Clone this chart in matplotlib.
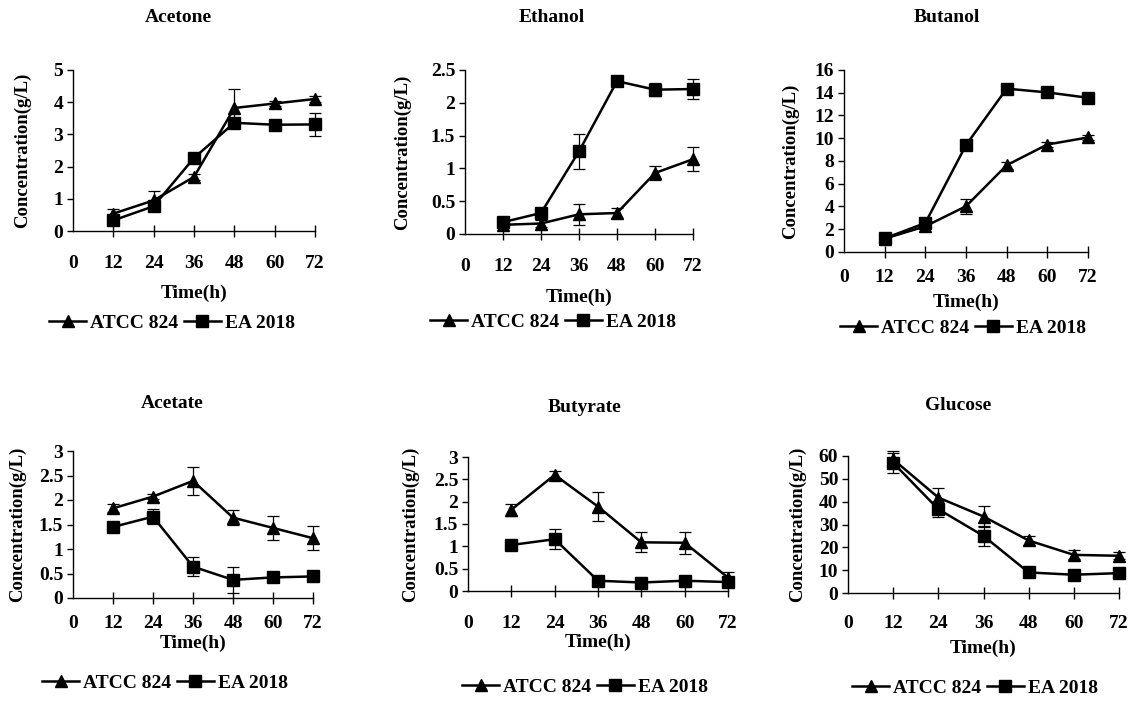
"""Fermentation time courses: ATCC 824 vs EA 2018, six metabolites."""
import matplotlib
matplotlib.use("Agg")
import matplotlib.pyplot as plt
from matplotlib.lines import Line2D

plt.rcParams["font.family"] = ["Liberation Serif", "DejaVu Serif"]
plt.rcParams["font.weight"] = "bold"

W, H = 1132, 703

time_h = [12, 24, 36, 48, 60, 72]
xticks = [0, 12, 24, 36, 48, 60, 72]

acetone_atcc = [0.54, 0.95, 1.68, 3.82, 3.96, 4.10]
acetone_atcc_err = [0.15, 0.30, 0.10, 0.60, 0.08, 0.10]
acetone_ea = [0.33, 0.77, 2.27, 3.36, 3.30, 3.31]
acetone_ea_err = [0.10, 0.10, 0.08, 0.10, 0.15, 0.37]

ethanol_atcc = [0.14, 0.16, 0.30, 0.32, 0.93, 1.14]
ethanol_atcc_err = [0.05, 0.06, 0.16, 0.07, 0.10, 0.18]
ethanol_ea = [0.18, 0.32, 1.26, 2.33, 2.20, 2.21]
ethanol_ea_err = [0.05, 0.05, 0.27, 0.04, 0.10, 0.15]

butanol_atcc = [1.17, 2.26, 4.02, 7.63, 9.45, 10.07]
butanol_atcc_err = [0.2, 0.2, 0.65, 0.3, 0.2, 0.2]
butanol_ea = [1.20, 2.55, 9.40, 14.36, 14.03, 13.56]
butanol_ea_err = [0.2, 0.2, 0.2, 0.4, 0.2, 0.2]

acetate_atcc = [1.83, 2.07, 2.39, 1.64, 1.43, 1.22]
acetate_atcc_err = [0.08, 0.05, 0.29, 0.16, 0.25, 0.24]
acetate_ea = [1.45, 1.66, 0.64, 0.37, 0.42, 0.44]
acetate_ea_err = [0.05, 0.15, 0.19, 0.26, 0.10, 0.08]

butyrate_atcc = [1.82, 2.60, 1.89, 1.09, 1.08, 0.30]
butyrate_atcc_err = [0.13, 0.08, 0.33, 0.22, 0.25, 0.13]
butyrate_ea = [1.03, 1.16, 0.23, 0.19, 0.23, 0.20]
butyrate_ea_err = [0.03, 0.23, 0.03, 0.03, 0.03, 0.03]

glucose_atcc = [58.5, 41.8, 33.5, 23.0, 16.7, 16.3]
glucose_atcc_err = [3.8, 4.0, 4.4, 2.0, 2.0, 1.5]
glucose_ea = [57.0, 36.7, 25.0, 9.0, 8.0, 8.7]
glucose_ea_err = [4.3, 3.6, 4.3, 1.0, 1.0, 1.0]

panels = [
    # name, atcc, atcc_err, ea, ea_err, yticks, ytick labels
    ("Acetone", acetone_atcc, acetone_atcc_err, acetone_ea, acetone_ea_err,
     [0, 1, 2, 3, 4, 5], ["0", "1", "2", "3", "4", "5"]),
    ("Ethanol", ethanol_atcc, ethanol_atcc_err, ethanol_ea, ethanol_ea_err,
     [0, 0.5, 1, 1.5, 2, 2.5], ["0", "0.5", "1", "1.5", "2", "2.5"]),
    ("Butanol", butanol_atcc, butanol_atcc_err, butanol_ea, butanol_ea_err,
     [0, 2, 4, 6, 8, 10, 12, 14, 16], ["0", "2", "4", "6", "8", "10", "12", "14", "16"]),
    ("Acetate", acetate_atcc, acetate_atcc_err, acetate_ea, acetate_ea_err,
     [0, 0.5, 1, 1.5, 2, 2.5, 3], ["0", "0.5", "1", "1.5", "2", "2.5", "3"]),
    ("Butyrate", butyrate_atcc, butyrate_atcc_err, butyrate_ea, butyrate_ea_err,
     [0, 0.5, 1, 1.5, 2, 2.5, 3], ["0", "0.5", "1", "1.5", "2", "2.5", "3"]),
    ("Glucose", glucose_atcc, glucose_atcc_err, glucose_ea, glucose_ea_err,
     [0, 10, 20, 30, 40, 50, 60], ["0", "10", "20", "30", "40", "50", "60"]),
]

# pixel layout: axes box (left, right, bottom, top), x tick pad (pt), title xy,
# ylabel x, xlabel y, legend xy
layout = [
    ((73, 315, 231, 70), 13, (178, 18), 22, 293, (172, 323)),
    ((465, 693, 234, 70), 13, (552, 18), 402, 297, (553, 322)),
    ((844, 1088, 252, 70), 8.5, (947, 18), 790, 302, (963, 328)),
    ((73, 313, 598, 451), 8.5, (172, 403), 17, 643, (165, 683)),
    ((468, 728, 591, 457), 13, (585, 408), 410, 642, (585, 687)),
    ((848, 1119, 593, 456), 12, (958, 405), 797, 648, (975, 688)),
]


def fx(x):
    return x / W


def fy(y):
    return 1 - y / H


fig = plt.figure(figsize=(W / 100, H / 100), dpi=100)

handles = [
    Line2D([], [], color="black", marker="^", markersize=9, linewidth=1.8),
    Line2D([], [], color="black", marker="s", markersize=8, linewidth=1.8),
]
labels = ["ATCC 824", "EA 2018"]

for (name, a, ae, e, ee, yt, ytl), (box, pad, tpos, ylx, xly, lpos) in zip(panels, layout):
    l, r, b, t = box
    ax = fig.add_axes([fx(l), fy(b), fx(r - l), (b - t) / H])
    ax.errorbar(time_h, a, yerr=ae, color="black", marker="^", markersize=9,
                linewidth=1.8, elinewidth=0.9, capsize=4, capthick=0.9,
                clip_on=False, zorder=3)
    ax.errorbar(time_h, e, yerr=ee, color="black", marker="s", markersize=8,
                linewidth=1.8, elinewidth=0.9, capsize=4, capthick=0.9,
                clip_on=False, zorder=3)
    ax.set_xlim(0, 72)
    ax.set_ylim(yt[0], yt[-1])
    ax.set_xticks(xticks)
    ax.set_yticks(yt)
    ax.set_yticklabels(ytl)
    for s in ("top", "right"):
        ax.spines[s].set_visible(False)
    for s in ("left", "bottom"):
        ax.spines[s].set_linewidth(1.0)
    ax.tick_params(axis="x", direction="inout", length=8, width=1.0,
                   pad=pad, labelsize=14)
    ax.tick_params(axis="y", direction="out", length=4, width=1.0,
                   pad=3, labelsize=14)
    ax.xaxis.get_major_ticks()[0].tick1line.set_visible(False)
    for lab in ax.get_xticklabels() + ax.get_yticklabels():
        lab.set_fontweight("bold")

    fig.text(fx(tpos[0]), fy(tpos[1]), name, ha="center", va="center",
             fontsize=14, fontweight="bold")
    fig.text(fx(ylx), (fy(b) + fy(t)) / 2, "Concentration(g/L)", rotation=90,
             ha="center", va="center", fontsize=13.5, fontweight="bold")
    fig.text((fx(l) + fx(r)) / 2, fy(xly), "Time(h)", ha="center", va="center",
             fontsize=14, fontweight="bold")
    fig.legend(handles, labels, loc="center",
               bbox_to_anchor=(fx(lpos[0]), fy(lpos[1])),
               ncol=2, frameon=False, handlelength=1.9,
               handletextpad=0.2, columnspacing=0.3, borderpad=0.1,
               prop={"weight": "bold", "size": 14})

fig.savefig("out.png", dpi=100)
